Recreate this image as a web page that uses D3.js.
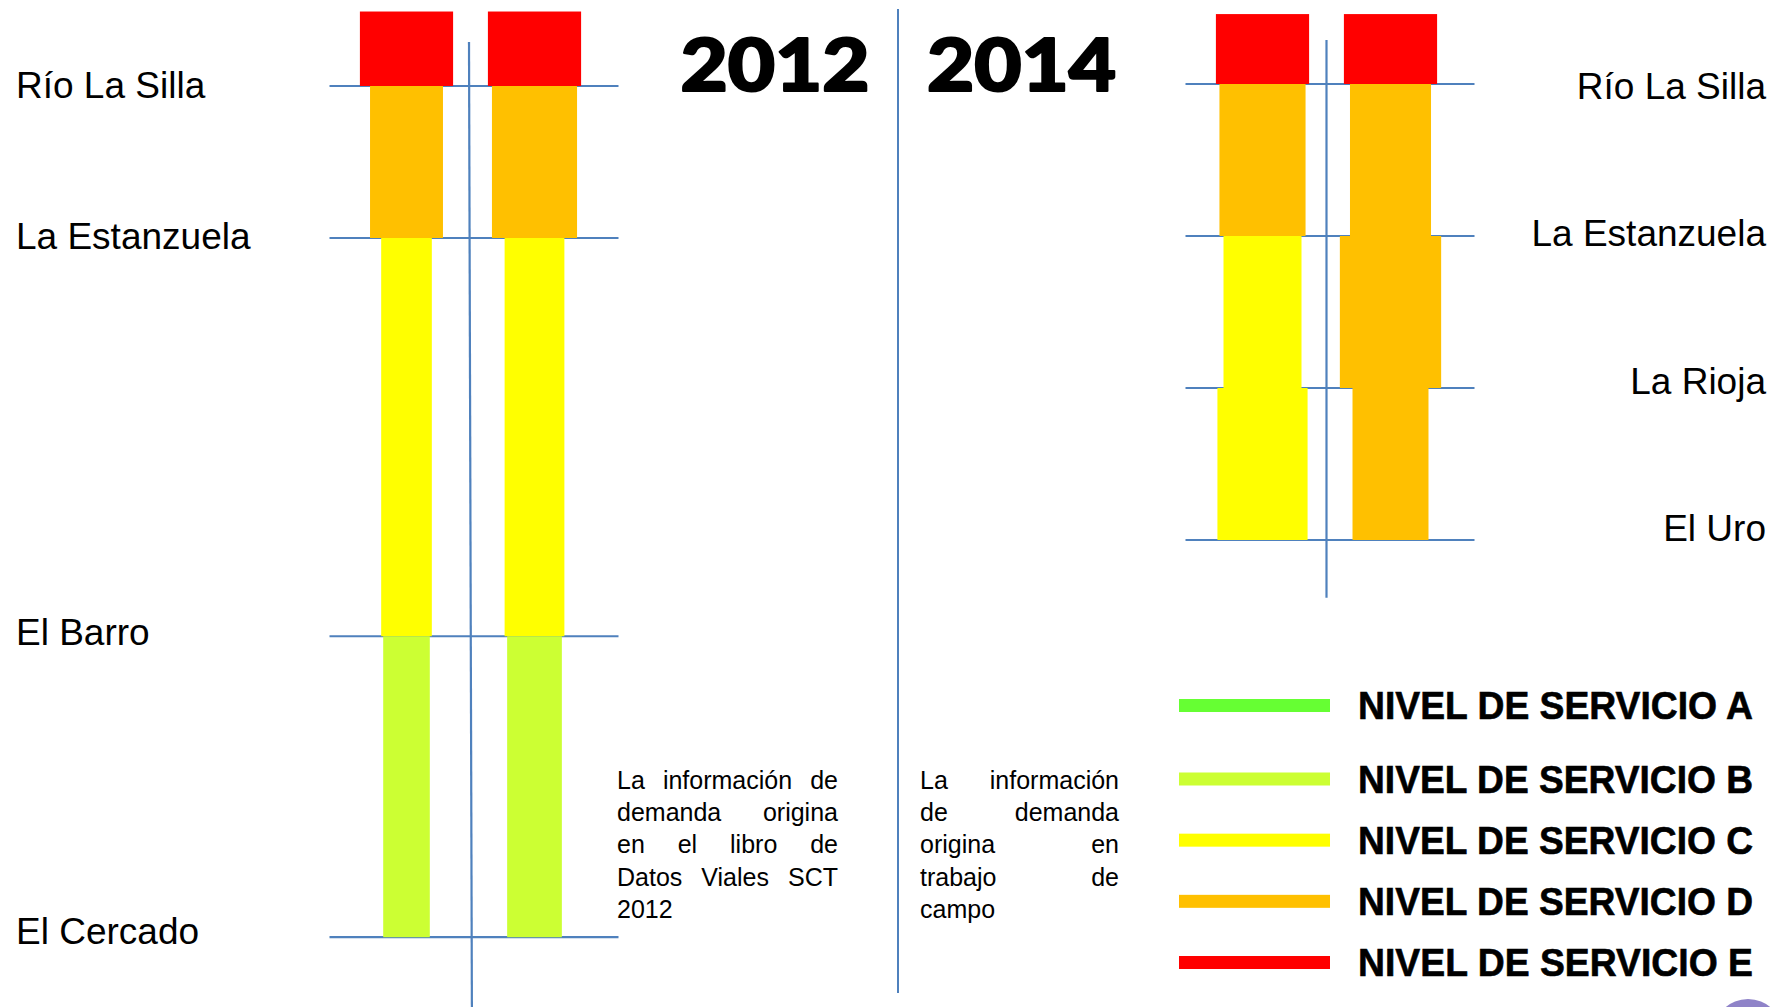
<!DOCTYPE html>
<html>
<head>
<meta charset="utf-8">
<script src="https://cdn.jsdelivr.net/npm/d3@7"></script>
<style>
  html, body { margin: 0; padding: 0; background: #ffffff; }
  svg { display: block; }
</style>
</head>
<body>
<div id="chart"></div>
<script>
// Niveles de servicio y colores de la leyenda
var niveles = ["A", "B", "C", "D", "E"];
var coloresNivel = ["#66FF33", "#CCFF33", "#FFFF00", "#FFC000", "#FF0000"];
var textoLeyenda = ["NIVEL DE SERVICIO A", "NIVEL DE SERVICIO B", "NIVEL DE SERVICIO C",
                    "NIVEL DE SERVICIO D", "NIVEL DE SERVICIO E"];

// Estaciones y su posicion relativa a lo largo del tramo
var estaciones2012 = ["Río La Silla", "La Estanzuela", "El Barro", "El Cercado"];
var posicion2012 = [0, 1, 3.62, 5.6];
var estaciones2014 = ["Río La Silla", "La Estanzuela", "La Rioja", "El Uro"];
var posicion2014 = [0, 1, 2, 3];

// Tramos 2012: inicio, fin, nivel por sentido y volumen relativo (ancho)
var inicioTramo2012 = [-0.49, 0, 1, 3.62];
var finTramo2012 = [0, 1, 3.62, 5.6];
var nivelIda2012 = ["E", "D", "C", "B"];
var nivelVuelta2012 = ["E", "D", "C", "B"];
var volumenIda2012 = [92, 72, 50, 46];
var volumenVuelta2012 = [92, 84, 59, 54];

// Tramos 2014
var inicioTramo2014 = [-0.46, 0, 1, 2];
var finTramo2014 = [0, 1, 2, 3];
var nivelIda2014 = ["E", "D", "C", "C"];
var nivelVuelta2014 = ["E", "D", "D", "D"];
var volumenIda2014 = [92, 85, 77, 89];
var volumenVuelta2014 = [92, 80, 100, 75];

// Notas de cada panel
var nota2012 = ["La información de", "demanda origina", "en el libro de", "Datos Viales SCT", "2012"];
var nota2014 = ["La información", "de demanda", "origina en", "trabajo de", "campo"];

var W = 1789, H = 1007;
var azul = "#4F81BD";

var svg = d3.select("#chart").append("svg")
    .attr("width", W)
    .attr("height", H);

var colorNivel = d3.scaleOrdinal().domain(niveles).range(coloresNivel);
var ancho = d3.scaleLinear().domain([0, 100]).range([0, 101.3]);
var sentido = d3.scalePoint().domain(["ida", "vuelta"]).range([-64, 64]);

// Dibuja un panel (un año)
function panel(cfg) {
    var y = d3.scaleLinear().domain([0, 1]).range(cfg.yRange);
    var ultimo = cfg.posiciones[cfg.posiciones.length - 1];
    var yEtiqueta = d3.scaleLinear().domain([0, ultimo]).range(cfg.etiquetaRange);
    var g = svg.append("g");

    // lineas horizontales de estaciones
    g.selectAll("line.est")
        .data(cfg.posiciones)
        .enter().append("line")
        .attr("x1", cfg.eje - 141).attr("x2", cfg.eje + 148)
        .attr("y1", function(d) { return y(d); })
        .attr("y2", function(d) { return y(d); })
        .attr("stroke", azul).attr("stroke-width", 2.2);

    // eje vertical
    g.append("line")
        .attr("x1", cfg.eje - cfg.inclina).attr("x2", cfg.eje + cfg.inclina)
        .attr("y1", y(cfg.ejeDominio[0])).attr("y2", y(cfg.ejeDominio[1]))
        .attr("stroke", azul).attr("stroke-width", 2.2);

    // barras por tramo y sentido
    var barras = [];
    cfg.inicio.forEach(function(ini, i) {
        barras.push({ s: "ida", ini: ini, fin: cfg.fin[i], nivel: cfg.nivelIda[i], vol: cfg.volIda[i] });
        barras.push({ s: "vuelta", ini: ini, fin: cfg.fin[i], nivel: cfg.nivelVuelta[i], vol: cfg.volVuelta[i] });
    });
    g.selectAll("rect.tramo")
        .data(barras)
        .enter().append("rect")
        .attr("x", function(d) { return cfg.eje + sentido(d.s) - ancho(d.vol) / 2; })
        .attr("width", function(d) { return ancho(d.vol); })
        .attr("y", function(d) { return y(d.ini); })
        .attr("height", function(d) { return y(d.fin) - y(d.ini); })
        .attr("fill", function(d) { return colorNivel(d.nivel); });

    // nombres de estaciones
    g.selectAll("text.est")
        .data(cfg.estaciones)
        .enter().append("text")
        .attr("x", cfg.etiquetaX)
        .attr("y", function(d, i) { return yEtiqueta(cfg.posiciones[i]); })
        .attr("text-anchor", cfg.anchor)
        .attr("font-family", "'Liberation Sans', Arial, sans-serif")
        .attr("font-size", 37)
        .attr("fill", "#000")
        .text(function(d) { return d; });
}

panel({
    eje: 470.5, inclina: 1.5, yRange: [86, 238], ejeDominio: [-0.29, 6.3],
    posiciones: posicion2012, estaciones: estaciones2012,
    inicio: inicioTramo2012, fin: finTramo2012,
    nivelIda: nivelIda2012, nivelVuelta: nivelVuelta2012,
    volIda: volumenIda2012, volVuelta: volumenVuelta2012,
    etiquetaX: 16, etiquetaRange: [98, 944], anchor: "start"
});

panel({
    eje: 1326.5, inclina: 0, yRange: [84, 236], ejeDominio: [-0.29, 3.38],
    posiciones: posicion2014, estaciones: estaciones2014,
    inicio: inicioTramo2014, fin: finTramo2014,
    nivelIda: nivelIda2014, nivelVuelta: nivelVuelta2014,
    volIda: volumenIda2014, volVuelta: volumenVuelta2014,
    etiquetaX: 1766, etiquetaRange: [98.5, 541], anchor: "end"
});

// divisor central
svg.append("line")
    .attr("x1", 898).attr("x2", 898)
    .attr("y1", 9).attr("y2", 993)
    .attr("stroke", azul).attr("stroke-width", 2);

// titulos de año
var anioX = d3.scalePoint().domain(["2012", "2014"]).range([775, 1021.5]);
svg.selectAll("text.anio")
    .data(["2012", "2014"])
    .enter().append("text")
    .attr("x", function(d) { return anioX(d); })
    .attr("y", 91)
    .attr("text-anchor", "middle")
    .attr("font-family", "Lato, Roboto, 'DejaVu Sans', sans-serif")
    .attr("font-weight", 900)
    .attr("font-size", 72)
    .attr("textLength", 189)
    .attr("lengthAdjust", "spacingAndGlyphs")
    .attr("fill", "#000")
    .attr("stroke", "#000")
    .attr("stroke-width", 2.2)
    .attr("stroke-linejoin", "round")
    .text(function(d) { return d; });

// notas justificadas
function nota(lineas, x0, anchoBloque, y0, paso) {
    var g = svg.append("g")
        .attr("font-family", "'Liberation Sans', Arial, sans-serif")
        .attr("font-size", 25)
        .attr("fill", "#000");
    lineas.forEach(function(linea, i) {
        var palabras = linea.split(" ");
        var nodos = palabras.map(function(p) {
            return g.append("text").attr("y", y0 + i * paso).text(p);
        });
        var anchos = nodos.map(function(n) { return n.node().getComputedTextLength(); });
        var total = d3.sum(anchos);
        var ultima = i === lineas.length - 1 || palabras.length < 2;
        var hueco = ultima ? 7 : (anchoBloque - total) / (palabras.length - 1);
        var x = x0;
        nodos.forEach(function(n, j) {
            n.attr("x", x);
            x += anchos[j] + hueco;
        });
    });
}
nota(nota2012, 617, 221, 789, 32.2);
nota(nota2014, 920, 199, 789, 32.2);

// leyenda (separacion mayor tras el primer nivel)
var leyY = d3.scaleLinear().domain([0, 1, 4]).range([705.5, 779, 962.5]);
var ley = svg.append("g");
ley.selectAll("rect")
    .data(niveles)
    .enter().append("rect")
    .attr("x", 1179).attr("width", 151)
    .attr("y", function(d, i) { return leyY(i) - 6.5; })
    .attr("height", 13)
    .attr("fill", function(d) { return colorNivel(d); });
ley.selectAll("text")
    .data(niveles)
    .enter().append("text")
    .attr("x", 1358)
    .attr("y", function(d, i) { return leyY(i) + 13.5; })
    .attr("font-family", "'Liberation Sans', Arial, sans-serif")
    .attr("font-weight", "bold")
    .attr("font-size", 38)
    .attr("textLength", 395)
    .attr("lengthAdjust", "spacingAndGlyphs")
    .attr("fill", "#000")
    .attr("stroke", "#000")
    .attr("stroke-width", 0.6)
    .text(function(d, i) { return textoLeyenda[i]; });

// fragmento de logotipo en la esquina
svg.append("ellipse")
    .attr("cx", 1748).attr("cy", 1032)
    .attr("rx", 34).attr("ry", 33)
    .attr("fill", "#8f83c8");
</script>
</body>
</html>
